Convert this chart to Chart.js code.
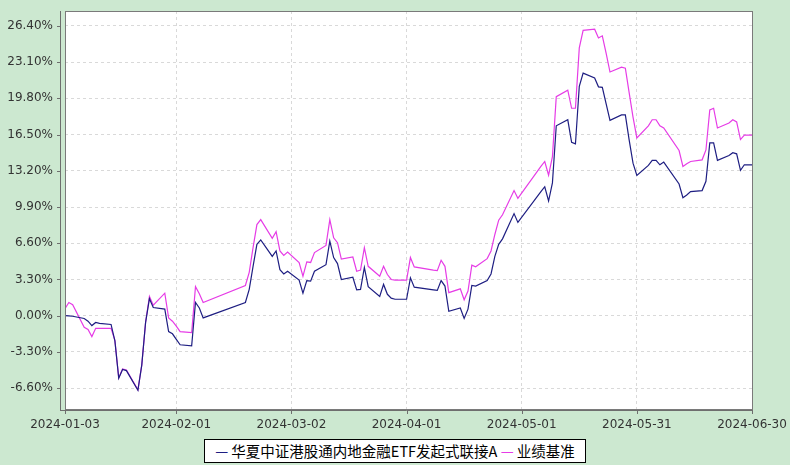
<!DOCTYPE html>
<html>
<head>
<meta charset="utf-8">
<script src="https://cdn.jsdelivr.net/npm/chart.js@4.4.1/dist/chart.umd.min.js"></script>
<style>
  html, body { margin: 0; padding: 0; background: #cce8d0; }
  #wrap { position: relative; width: 790px; height: 465px; }
  #chart { position: absolute; left: 0; top: 0; }
  #legend {
    position: absolute; left: 204px; top: 439px; width: 380px; height: 22px;
    border: 1px solid #000; background: #fff; color: #000;
    font: 14.5px "Noto Sans CJK SC", sans-serif; line-height: 22px;
    white-space: nowrap; padding-left: 0; box-sizing: content-box; text-align: center;
  }
  #legend .fund { color: #1e1e82; }
  #legend .bench { color: #e63ce6; }
</style>
</head>
<body>
<div id="wrap">
  <canvas id="chart" width="790" height="465"></canvas>
  <div id="legend"><span class="fund">—</span> 华夏中证港股通内地金融ETF发起式联接A <span class="bench">—</span> 业绩基准</div>
</div>
<script>
// trading days shown in the chart
var dates = [
  '2024-01-03','2024-01-04','2024-01-05','2024-01-08','2024-01-09','2024-01-10','2024-01-11','2024-01-12','2024-01-15','2024-01-16','2024-01-17','2024-01-18','2024-01-19','2024-01-22','2024-01-23','2024-01-24','2024-01-25','2024-01-26','2024-01-29','2024-01-30','2024-01-31',
  '2024-02-01','2024-02-02','2024-02-05','2024-02-06','2024-02-07','2024-02-08','2024-02-19','2024-02-20','2024-02-21','2024-02-22','2024-02-23','2024-02-26','2024-02-27','2024-02-28','2024-02-29',
  '2024-03-01','2024-03-04','2024-03-05','2024-03-06','2024-03-07','2024-03-08','2024-03-11','2024-03-12','2024-03-13','2024-03-14','2024-03-15','2024-03-18','2024-03-19','2024-03-20','2024-03-21','2024-03-22','2024-03-25','2024-03-26','2024-03-27','2024-03-28','2024-03-29',
  '2024-04-01','2024-04-02','2024-04-03','2024-04-08','2024-04-09','2024-04-10','2024-04-11','2024-04-12','2024-04-15','2024-04-16','2024-04-17','2024-04-18','2024-04-19','2024-04-22','2024-04-23','2024-04-24','2024-04-25','2024-04-26','2024-04-29','2024-04-30',
  '2024-05-06','2024-05-07','2024-05-08','2024-05-09','2024-05-10','2024-05-13','2024-05-14','2024-05-15','2024-05-16','2024-05-17','2024-05-20','2024-05-21','2024-05-22','2024-05-23','2024-05-24','2024-05-27','2024-05-28','2024-05-29','2024-05-30','2024-05-31',
  '2024-06-03','2024-06-04','2024-06-05','2024-06-06','2024-06-07','2024-06-11','2024-06-12','2024-06-13','2024-06-14','2024-06-17','2024-06-18','2024-06-19','2024-06-20','2024-06-21','2024-06-24','2024-06-25','2024-06-26','2024-06-27','2024-06-28','2024-06-30'
];

// cumulative return of the fund, %
var fundValues = [
  0, -0.02, -0.05, -0.25, -0.5, -0.9, -0.62, -0.7, -0.8, -2.3, -5.7, -4.9, -5.0, -6.8, -4.5, -0.6, 1.55, 0.75, 0.6, -1.45, -1.65,
  -2.15, -2.65, -2.75, 1.2, 0.7, -0.2, 1.2, 2.4, 4.5, 6.5, 6.9, 5.4, 5.9, 4.2, 3.8,
  4.05, 3.25, 2.05, 3.2, 3.15, 4.05, 4.65, 6.8, 5.3, 4.75, 3.3, 3.5, 2.35, 2.4, 4.4, 2.65, 1.75, 2.85, 1.95, 1.6, 1.5,
  1.5, 3.45, 2.6, 2.35, 2.3, 3.2, 2.7, 0.4, 0.7, -0.25, 0.6, 2.75, 2.7, 3.2, 3.8, 5.4, 6.5, 7.0, 9.3, 8.5,
  11.3, 11.75, 10.45, 12.1, 17.3, 17.85, 15.8, 15.65, 20.9, 22.1, 21.65, 20.85, 20.8, 19.3, 17.8, 18.3, 18.3, 16.0, 13.9, 12.77,
  13.7, 14.15, 14.15, 13.75, 14.0, 12.0, 10.75, 11.0, 11.3, 11.4, 12.25, 15.75, 15.75, 14.15, 14.6, 14.85, 14.75, 13.25, 13.75, 13.75
];

// benchmark, %
var benchValues = [
  0.65, 1.2, 1.0, -1.05, -1.25, -1.9, -1.15, -1.15, -1.15, -2.25, -5.65, -4.85, -4.95, -6.75, -4.5, -0.6, 1.75, 0.95, 2.05, -0.2, -0.5,
  -0.95, -1.45, -1.55, 2.65, 2.0, 1.2, 2.75, 3.95, 6.2, 8.3, 8.75, 7.05, 7.65, 5.9, 5.5,
  5.8, 4.85, 3.6, 4.9, 4.85, 5.75, 6.4, 8.75, 7.1, 6.65, 5.15, 5.35, 4.05, 4.15, 6.2, 4.5, 3.6, 4.5, 3.75, 3.3, 3.25,
  3.25, 5.3, 4.45, 4.15, 4.1, 5.05, 4.5, 2.1, 2.45, 1.45, 2.25, 4.6, 4.45, 5.2, 5.9, 7.4, 8.7, 9.2, 11.4, 10.7,
  13.6, 14.05, 12.8, 14.5, 19.95, 20.55, 18.9, 18.9, 24.4, 26.0, 26.1, 25.3, 25.5, 23.9, 22.2, 22.65, 22.55, 20.3, 18.1, 16.2,
  17.3, 17.85, 17.85, 17.3, 17.1, 15.05, 13.6, 13.85, 14.05, 14.2, 15.1, 18.75, 18.9, 17.1, 17.55, 17.85, 17.65, 16.05, 16.45, 16.45
];

var xTickDates = ['2024-01-03','2024-02-01','2024-03-02','2024-04-01','2024-05-01','2024-05-31','2024-06-30'];
var yTicks = [-6.6, -3.3, 0, 3.3, 6.6, 9.9, 13.2, 16.5, 19.8, 23.1, 26.4];

function dayOf(s) {
    return (Date.parse(s) - Date.parse(xTickDates[0])) / 86400000;
}

function points(values) {
    return dates.map(function (d, i) { return {x: dayOf(d), y: values[i]}; });
}

// green page, white plot, frame and axis lines with small ticks
var frame = {
    id: 'frame',
    beforeDraw: function (chart) {
        var ctx = chart.ctx, a = chart.chartArea;
        ctx.save();
        ctx.fillStyle = '#cce8d0';
        ctx.fillRect(0, 0, chart.width, chart.height);
        ctx.fillStyle = '#ffffff';
        ctx.fillRect(a.left, a.top, a.right - a.left, a.bottom - a.top);
        ctx.restore();
    },
    afterDraw: function (chart) {
        var ctx = chart.ctx, a = chart.chartArea;
        var xs = chart.scales.x, ys = chart.scales.y;
        ctx.save();
        ctx.lineWidth = 1;
        ctx.strokeStyle = '#7a7a7a';
        ctx.strokeRect(a.left + 0.5, a.top + 0.5, a.right - a.left, a.bottom - a.top);
        ctx.strokeStyle = '#6e6e6e';
        ctx.beginPath();
        ctx.moveTo(60.5, a.top);
        ctx.lineTo(60.5, a.bottom + 2);
        ctx.moveTo(60.5, a.bottom + 1.5);
        ctx.lineTo(a.right + 1, a.bottom + 1.5);
        yTicks.forEach(function (v) {
            var y = Math.round(ys.getPixelForValue(v)) + 0.5;
            ctx.moveTo(57, y);
            ctx.lineTo(61, y);
        });
        xTickDates.forEach(function (d) {
            var x = Math.round(xs.getPixelForValue(dayOf(d))) + 0.5;
            ctx.moveTo(x, a.bottom + 1);
            ctx.lineTo(x, a.bottom + 5);
        });
        ctx.stroke();
        ctx.restore();
    }
};

var tickFont = {family: 'DejaVu Sans', size: 12};

new Chart(document.getElementById('chart'), {
    type: 'line',
    data: {
        datasets: [{
            label: '华夏中证港股通内地金融ETF发起式联接A',
            data: points(fundValues),
            borderColor: '#1e1e82',
            borderWidth: 1.2,
            pointRadius: 0,
            tension: 0
        }, {
            label: '业绩基准',
            data: points(benchValues),
            borderColor: '#e63ce6',
            borderWidth: 1.2,
            pointRadius: 0,
            tension: 0
        }]
    },
    options: {
        responsive: false,
        animation: false,
        devicePixelRatio: 1,
        layout: {padding: {top: 11, right: 38, bottom: 0, left: 0}},
        plugins: {
            legend: {display: false},
            tooltip: {enabled: false}
        },
        scales: {
            x: {
                type: 'linear',
                min: 0,
                max: dayOf(xTickDates[xTickDates.length - 1]),
                afterBuildTicks: function (s) {
                    s.ticks = xTickDates.map(function (d) { return {value: dayOf(d)}; });
                },
                afterFit: function (s) {
                    s.height = 56;
                    s.paddingLeft = 0;
                    s.paddingRight = 0;
                },
                ticks: {
                    callback: function (v, i) { return xTickDates[i]; },
                    autoSkip: false,
                    maxRotation: 0,
                    padding: 9,
                    color: '#333',
                    font: tickFont
                },
                grid: {color: '#d9d9d9', drawTicks: false},
                border: {display: false, dash: [3, 3]}
            },
            y: {
                min: -8.5,
                max: 27.76,
                afterBuildTicks: function (s) {
                    s.ticks = yTicks.map(function (v) { return {value: v}; });
                },
                afterFit: function (s) {
                    s.width = 65;
                    s.paddingTop = 0;
                    s.paddingBottom = 0;
                },
                ticks: {
                    callback: function (v) { return v.toFixed(2) + '%'; },
                    padding: 12,
                    color: '#333',
                    font: tickFont
                },
                grid: {color: '#d9d9d9', drawTicks: false},
                border: {display: false, dash: [3, 3]}
            }
        }
    },
    plugins: [frame]
});
</script>
</body>
</html>
